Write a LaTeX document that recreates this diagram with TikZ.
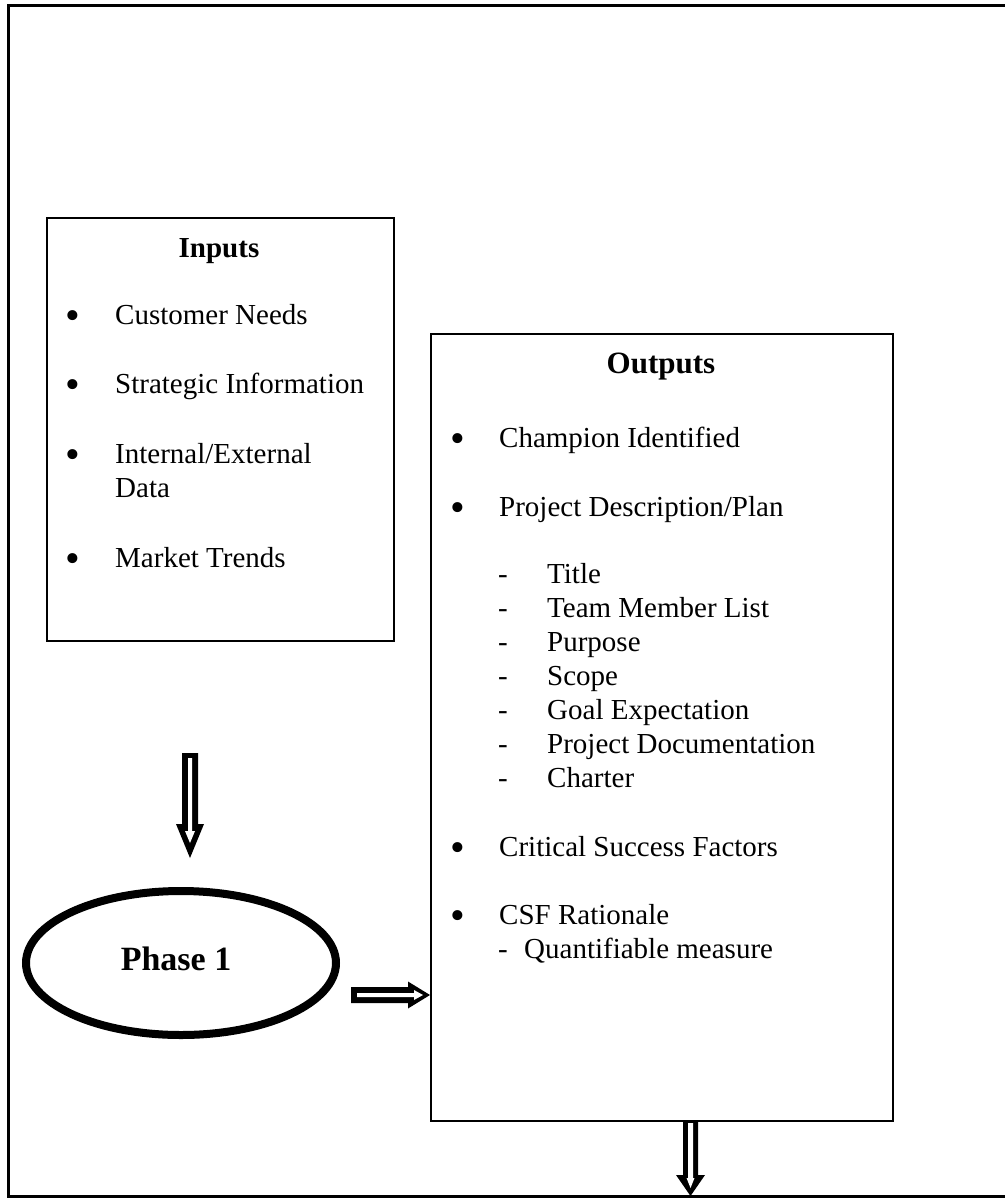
\documentclass[tikz,border=0pt]{standalone}
\usepackage{fontspec}
\setmainfont{Liberation Serif}
\usetikzlibrary{shapes.geometric}
\newcommand{\bodyfont}{\fontsize{29}{34}\selectfont}
\newcommand{\bulfont}{\fontsize{42}{42}\selectfont}
\newcommand{\headfont}{\fontsize{29}{34}\selectfont\bfseries}
\newcommand{\outfont}{\fontsize{31}{36}\selectfont\bfseries}
\newcommand{\phfont}{\fontsize{34}{38}\selectfont\bfseries}
\begin{document}
\begin{tikzpicture}[x=1pt,y=-1pt,
  txt/.style={anchor=base west,inner sep=0pt,font=\bodyfont},
  bul/.style={anchor=base,inner sep=0pt,font=\bulfont,yshift=-5pt},
  box/.style={draw,line width=1.8pt,anchor=north west,inner sep=0pt},
  hole/.style={fill=white}]
\useasboundingbox (0,0) rectangle (1004,1198);
% outer frame (right side lies beyond the page)
\draw[line width=3pt] (1015,6) -- (8.5,6) -- (8.5,1196) -- (1015,1196);

% Inputs box
\node[box,minimum width=347pt,minimum height=423pt] (inputs) at (46,217) {};
\node[anchor=base,inner sep=0pt,font=\headfont] (inT) at (219,257) {Inputs};
\node[bul] (ib1) at (73,324) {•};
\node[txt] (it1) at (115,324) {Customer Needs};
\node[bul] (ib2) at (73,393) {•};
\node[txt] (it2) at (115,393) {Strategic Information};
\node[bul] (ib3) at (73,463) {•};
\node[txt] (it3) at (115,463) {Internal/External};
\node[txt] (it3b) at (115,497) {Data};
\node[bul] (ib4) at (73,567) {•};
\node[txt] (it4) at (115,567) {Market Trends};

% Outputs box
\node[box,minimum width=462pt,minimum height=787pt] (outputs) at (430,333) {};
\node[anchor=base,inner sep=0pt,font=\outfont] (outT) at (661,373) {Outputs};
\node[bul] (ob1) at (458,447) {•};
\node[txt] (ot1) at (499,447) {Champion Identified};
\node[bul] (ob2) at (458,516) {•};
\node[txt] (ot2) at (499,516) {Project Description/Plan};
\node[txt] (od1) at (498,583) {-};
\node[txt] (os1) at (547,583) {Title};
\node[txt] (od2) at (498,617) {-};
\node[txt] (os2) at (547,617) {Team Member List};
\node[txt] (od3) at (498,651) {-};
\node[txt] (os3) at (547,651) {Purpose};
\node[txt] (od4) at (498,685) {-};
\node[txt] (os4) at (547,685) {Scope};
\node[txt] (od5) at (498,719) {-};
\node[txt] (os5) at (547,719) {Goal Expectation};
\node[txt] (od6) at (498,753) {-};
\node[txt] (os6) at (547,753) {Project Documentation};
\node[txt] (od7) at (498,787) {-};
\node[txt] (os7) at (547,787) {Charter};
\node[bul] (ob3) at (458,856) {•};
\node[txt] (ot3) at (499,856) {Critical Success Factors};
\node[bul] (ob4) at (458,924) {•};
\node[txt] (ot4) at (499,924) {CSF Rationale};
\node[txt] (od8) at (498,958) {-};
\node[txt] (ot5) at (524,958) {Quantifiable measure};

% Phase 1 ellipse
\node[draw,ellipse,line width=8pt,minimum width=310pt,minimum height=144pt,inner sep=0pt] (phase) at (181,963) {};
\node[anchor=base,inner sep=0pt,font=\phfont] (phT) at (176,970) {Phase 1};

% block arrow: Inputs -> Phase 1
\fill (182,753) -- (198,753) -- (198,824) -- (204,824) -- (190,858) -- (176,824) -- (182,824) -- cycle;
\fill[hole] (188,758) -- (192,758) -- (192,831) -- (195,831) -- (190,843) -- (185,831) -- (188,831) -- cycle;

% block arrow: Phase 1 -> Outputs
\fill (351,987) -- (408,987) -- (408,981.5) -- (430,995) -- (408,1008.5) -- (408,1003) -- (351,1003) -- cycle;
\fill[hole] (357,993) -- (414,993) -- (414,990) -- (423,995) -- (414,1000) -- (414,997) -- (357,997) -- cycle;

% block arrow: Outputs -> next
\fill (683,1121) -- (698,1121) -- (698,1175) -- (705,1175) -- (690.5,1196) -- (676,1175) -- (683,1175) -- cycle;
\fill[hole] (688,1123) -- (693,1123) -- (693,1178) -- (694.5,1178) -- (690.5,1188) -- (686.5,1178) -- (688,1178) -- cycle;
\end{tikzpicture}
\end{document}
